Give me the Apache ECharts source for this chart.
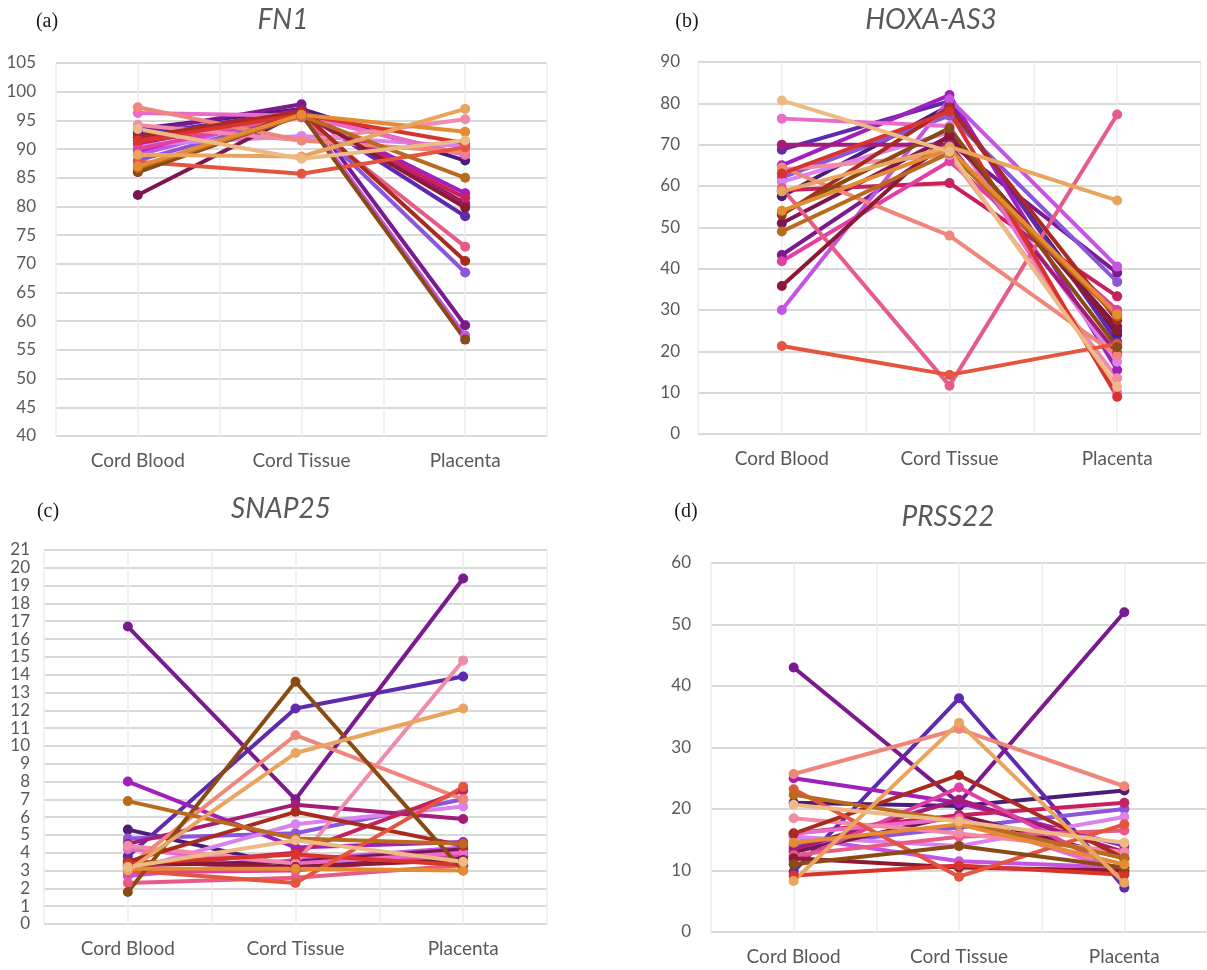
<!DOCTYPE html>
<html>
<head>
<meta charset="utf-8">
<script src="https://cdn.jsdelivr.net/npm/echarts@6/dist/echarts.min.js"></script>
<style>
  html, body { margin: 0; padding: 0; background: #ffffff; }
  #chart { width: 1207px; height: 970px; }
</style>
</head>
<body>
<div id="chart"></div>
<script>
// Sample groups shown on the x axis
const categories = ['Cord Blood', 'Cord Tissue', 'Placenta'];

// One colour per donor, shared by all four panels
const donorColors = [
  '#4B1D78', '#5E2AAE', '#7B1A8E', '#8B55DC', '#A11FBA', '#C654E2',
  '#DA83EC', '#7A1650', '#A31C78', '#C8205E', '#E040A6', '#E96CC8',
  '#E65C86', '#F08BA8', '#F0867A', '#8C1A35', '#A92A1E', '#D9342C',
  '#E4543F', '#8A4A14', '#BA6A1E', '#E48B33', '#E9A45E', '#EDBA85'
];

// FN1 (one value per donor for each group)
const fn1Blood    = [93.5, 92.5, 93.0, 88.0, 89.5, 89.0, 90.7, 82.0, 92.0, 91.0, 90.0, 96.3, 91.5, 94.2, 97.3, 86.0, 92.0, 91.5, 87.8, 86.0, 86.7, 87.0, 89.0, 93.5];
const fn1Tissue   = [97.0, 96.5, 97.8, 96.0, 96.5, 96.5, 92.3, 96.5, 96.8, 96.0, 96.0, 95.8, 95.5, 91.5, 91.5, 96.5, 96.5, 96.0, 85.7, 96.0, 95.8, 96.0, 88.7, 88.3];
const fn1Placenta = [88.0, 78.3, 59.3, 68.5, 82.3, 57.5, 90.5, 80.5, 80.2, 81.5, 89.0, 89.0, 73.0, 95.2, 89.5, 79.8, 70.5, 91.0, 90.3, 56.8, 85.0, 93.0, 97.0, 91.5];

// HOXA-AS3
const hoxBlood    = [57.5, 68.8, 43.3, 62.0, 65.0, 30.0, 61.0, 51.0, 70.0, 59.0, 41.8, 76.3, 59.5, 64.0, 64.5, 35.8, 53.0, 63.0, 21.3, 53.5, 49.0, 54.0, 58.7, 80.7];
const hoxTissue   = [79.5, 80.5, 70.5, 77.0, 82.0, 81.0, 73.0, 72.0, 70.0, 60.7, 66.0, 74.5, 11.7, 67.5, 48.0, 72.5, 79.0, 78.0, 14.3, 74.0, 68.0, 69.0, 69.5, 68.3];
const hoxPlacenta = [24.0, 22.3, 39.0, 36.8, 15.5, 40.5, 17.5, 26.0, 19.5, 33.3, 30.0, 10.0, 77.3, 13.5, 19.0, 25.0, 27.5, 9.0, 21.8, 21.0, 28.5, 29.0, 56.5, 11.5];

// SNAP25
const snapBlood    = [5.3, 3.8, 16.7, 4.8, 8.0, 2.7, 3.0, 3.3, 4.5, 3.2, 2.9, 4.2, 2.3, 4.4, 3.2, 3.5, 3.5, 3.4, 3.0, 1.8, 6.9, 3.1, 3.0, 3.2];
const snapTissue   = [3.2, 12.1, 7.0, 5.1, 4.3, 3.6, 5.6, 3.5, 6.7, 4.0, 3.0, 3.4, 2.6, 3.4, 10.6, 3.2, 6.3, 3.9, 2.3, 13.6, 4.8, 3.1, 9.6, 4.7];
const snapPlacenta = [3.8, 13.9, 19.4, 7.0, 4.6, 4.3, 6.6, 4.2, 5.9, 7.5, 3.9, 4.0, 3.3, 14.8, 7.0, 3.6, 4.4, 3.3, 7.7, 3.0, 4.5, 3.0, 12.1, 3.5];

// PRSS22
const prssBlood    = [21.0, 9.8, 43.0, 14.0, 25.0, 15.5, 15.5, 13.0, 13.5, 16.0, 11.5, 16.0, 12.5, 18.5, 25.7, 12.0, 16.0, 9.2, 23.2, 11.0, 22.3, 14.5, 8.3, 20.7];
const prssTissue   = [20.5, 38.0, 21.0, 17.0, 21.0, 11.5, 14.0, 19.0, 21.5, 19.0, 23.5, 18.5, 15.5, 16.0, 33.0, 10.5, 25.5, 10.8, 9.0, 14.0, 18.0, 17.5, 34.0, 18.0];
const prssPlacenta = [23.0, 7.2, 52.0, 20.0, 14.0, 10.5, 18.7, 12.0, 13.0, 21.0, 9.5, 9.8, 16.5, 13.0, 23.7, 10.0, 12.0, 9.3, 17.5, 10.5, 12.0, 11.0, 8.0, 14.5];

const panels = [
  { letter: '(a)', gene: 'FN1', blood: fn1Blood, tissue: fn1Tissue, placenta: fn1Placenta,
    yMin: 40, yMax: 105, yStep: 5,
    grid: { left: 56, top: 63, width: 491, height: 373 }, labelMargin: 20,
    titleAt: [283, 20], letterAt: [47, 22] },
  { letter: '(b)', gene: 'HOXA-AS3', blood: hoxBlood, tissue: hoxTissue, placenta: hoxPlacenta,
    yMin: 0, yMax: 90, yStep: 10,
    grid: { left: 698, top: 62, width: 503, height: 372 }, labelMargin: 18,
    titleAt: [931, 20], letterAt: [687, 22] },
  { letter: '(c)', gene: 'SNAP25', blood: snapBlood, tissue: snapTissue, placenta: snapPlacenta,
    yMin: 0, yMax: 21, yStep: 1,
    grid: { left: 44, top: 550, width: 503, height: 374 }, labelMargin: 14,
    titleAt: [281, 509], letterAt: [48, 512] },
  { letter: '(d)', gene: 'PRSS22', blood: prssBlood, tissue: prssTissue, placenta: prssPlacenta,
    yMin: 0, yMax: 60, yStep: 10,
    grid: { left: 711, top: 563, width: 501, height: 369 }, labelMargin: 20,
    titleAt: [948, 517], letterAt: [686, 512] }
];

const sansFont = 'Lato, "Noto Sans", sans-serif';
const textGrey = '#595959';

const grids = [], xAxes = [], yAxes = [], series = [], graphics = [];

panels.forEach((p, i) => {
  grids.push(Object.assign({ containLabel: false }, p.grid));

  // category axis carrying the group labels
  xAxes.push({
    type: 'category', gridIndex: i, data: categories, boundaryGap: true,
    axisLine: { show: false }, axisTick: { show: false }, splitLine: { show: false },
    axisLabel: { color: textGrey, fontSize: 19, fontFamily: sansFont, margin: 15 }
  });
  // helper axis for the light vertical grid (band edges and centres)
  xAxes.push({
    type: 'value', gridIndex: i, min: 0, max: 6, interval: 1,
    axisLine: { show: false }, axisTick: { show: false }, axisLabel: { show: false },
    splitLine: { show: true, lineStyle: { color: '#ececec', width: 1.5 } }
  });

  yAxes.push({
    type: 'value', gridIndex: i, min: p.yMin, max: p.yMax, interval: p.yStep,
    axisLine: { show: false }, axisTick: { show: false },
    axisLabel: { color: textGrey, fontSize: 17, fontFamily: sansFont, margin: p.labelMargin },
    splitLine: { show: true, lineStyle: { color: '#d9d9d9', width: 2 } }
  });

  p.blood.forEach((v, k) => {
    series.push({
      type: 'line', xAxisIndex: i * 2, yAxisIndex: i,
      data: [v, p.tissue[k], p.placenta[k]],
      symbol: 'circle', symbolSize: 10,
      lineStyle: { width: 4, color: donorColors[k] },
      itemStyle: { color: donorColors[k] },
      emphasis: { disabled: true }, animation: false
    });
  });

  graphics.push({
    type: 'text', x: p.titleAt[0], y: p.titleAt[1],
    style: { text: p.gene, fill: textGrey, align: 'center', verticalAlign: 'middle',
             font: 'italic 28px ' + sansFont }
  });
  graphics.push({
    type: 'text', x: p.letterAt[0], y: p.letterAt[1],
    style: { text: p.letter, fill: '#1a1a1a', align: 'center', verticalAlign: 'middle',
             font: '20px "Liberation Serif", "DejaVu Serif", serif' }
  });
});

const chart = echarts.init(document.getElementById('chart'), null, { renderer: 'canvas' });
chart.setOption({
  backgroundColor: '#ffffff',
  animation: false,
  grid: grids,
  xAxis: xAxes,
  yAxis: yAxes,
  series: series,
  graphic: graphics
});
</script>
</body>
</html>
